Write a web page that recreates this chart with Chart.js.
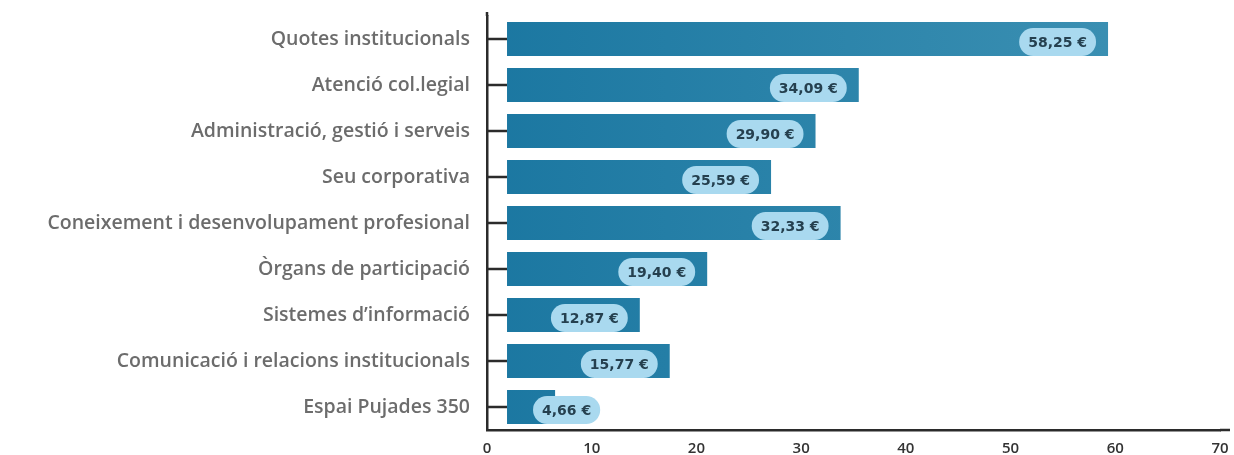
<!DOCTYPE html>
<html><head><meta charset="utf-8">
<script src="https://cdn.jsdelivr.net/npm/chart.js@4/dist/chart.umd.min.js"></script>
<style>html,body{margin:0;padding:0;background:#fff;}#wrap{width:1234px;height:455px;}</style>
</head><body><div id="wrap"><canvas id="c" width="1234" height="455"></canvas></div>
<script>
const categories = ["Quotes institucionals","Atenció col.legial","Administració, gestió i serveis","Seu corporativa","Coneixement i desenvolupament profesional","Òrgans de participació","Sistemes d’informació","Comunicació i relacions institucionals","Espai Pujades 350"];
const values = [58.25, 34.09, 29.90, 25.59, 32.33, 19.40, 12.87, 15.77, 4.66];
const valueLabels = ["58,25 €","34,09 €","29,90 €","25,59 €","32,33 €","19,40 €","12,87 €","15,77 €","4,66 €"];
const xTicks = [0,10,20,30,40,50,60,70];

const FONT = "'Open Sans', 'DejaVu Sans', sans-serif";
const PFONT = "'DejaVu Sans', 'Open Sans', sans-serif";

const overlay = {
  id:'overlay',
  afterDatasetsDraw(chart){
    const ctx = chart.ctx, y = chart.scales.y, ca = chart.chartArea;
    const xb = chart.scales.xb;
    ctx.save();
    ctx.strokeStyle = '#2b2b2b'; ctx.lineWidth = 2.5;
    // axis extensions
    ctx.beginPath(); ctx.moveTo(ca.left, ca.top); ctx.lineTo(ca.left, ca.top - 4); ctx.stroke();
    ctx.beginPath(); ctx.moveTo(ca.right, ca.bottom); ctx.lineTo(ca.right + 10, ca.bottom); ctx.stroke();
    categories.forEach((c,i)=>{
      const py = y.getPixelForValue(i);
      ctx.beginPath(); ctx.moveTo(ca.left, py); ctx.lineTo(xb.getPixelForValue(0), py); ctx.stroke();
    });
    // pills
    const meta = chart.getDatasetMeta(0);
    ctx.font = "bold 14px " + PFONT;
    ctx.textBaseline = 'middle'; ctx.textAlign = 'center';
    meta.data.forEach((bar,i)=>{
      const txt = valueLabels[i];
      const w = ctx.measureText(txt).width + 18, h = 28;
      let right = bar.x - 12;
      let left = right - w;
      const minLeft = bar.base + 26;
      if (left < minLeft) { left = minLeft; }
      const cy = bar.y + 3;
      ctx.fillStyle = '#a9d9ef';
      ctx.beginPath();
      ctx.roundRect(left, cy - h/2, w, h, 14);
      ctx.fill();
      ctx.fillStyle = '#25404f';
      ctx.fillText(txt, left + w/2, cy + 1);
    });
    ctx.restore();
  }
};

new Chart(document.getElementById('c'), {
  type:'bar',
  data:{
    labels: categories,
    datasets:[{
      data: values,
      xAxisID:'xb',
      yAxisID:'y',
      backgroundColor: (ctx)=>{
        const chart = ctx.chart, ca = chart.chartArea;
        if(!ca) return '#2a84ad';
        const g = chart.ctx.createLinearGradient(ca.left, 0, ca.left + 620, 0);
        g.addColorStop(0, '#1b77a1');
        g.addColorStop(1, '#3a8fb2');
        return g;
      },
      borderWidth:0,
      categoryPercentage:0.74,
      barPercentage:1
    }]
  },
  options:{
    indexAxis:'y',
    responsive:false,
    animation:false,
    layout:{padding:{top:16,right:14,left:0,bottom:0}},
    plugins:{legend:{display:false},tooltip:{enabled:false}},
    scales:{
      xb:{type:'linear', min:-1.94, max:69.1, display:false},
      x:{type:'linear', position:'bottom', min:0, max:70,
        ticks:{stepSize:10, color:'#333', font:{family:FONT, size:15, weight:'600'}, padding:10},
        grid:{display:false, drawTicks:false},
        border:{display:true, color:'#2b2b2b', width:2.5},
        afterFit:(s)=>{s.height = 25; s.paddingRight = 0; s.paddingLeft = 0;}
      },
      y:{type:'category',
        ticks:{color:'#6c6c6c', font:{family:FONT, size:19.5, weight:'600'}, padding:17},
        grid:{display:false, drawTicks:false},
        border:{display:true, color:'#2b2b2b', width:2.5},
        afterFit:(s)=>{s.width = 487; s.paddingTop = 0; s.paddingBottom = 0;}
      }
    }
  },
  plugins:[overlay]
});
</script>
</body></html>
